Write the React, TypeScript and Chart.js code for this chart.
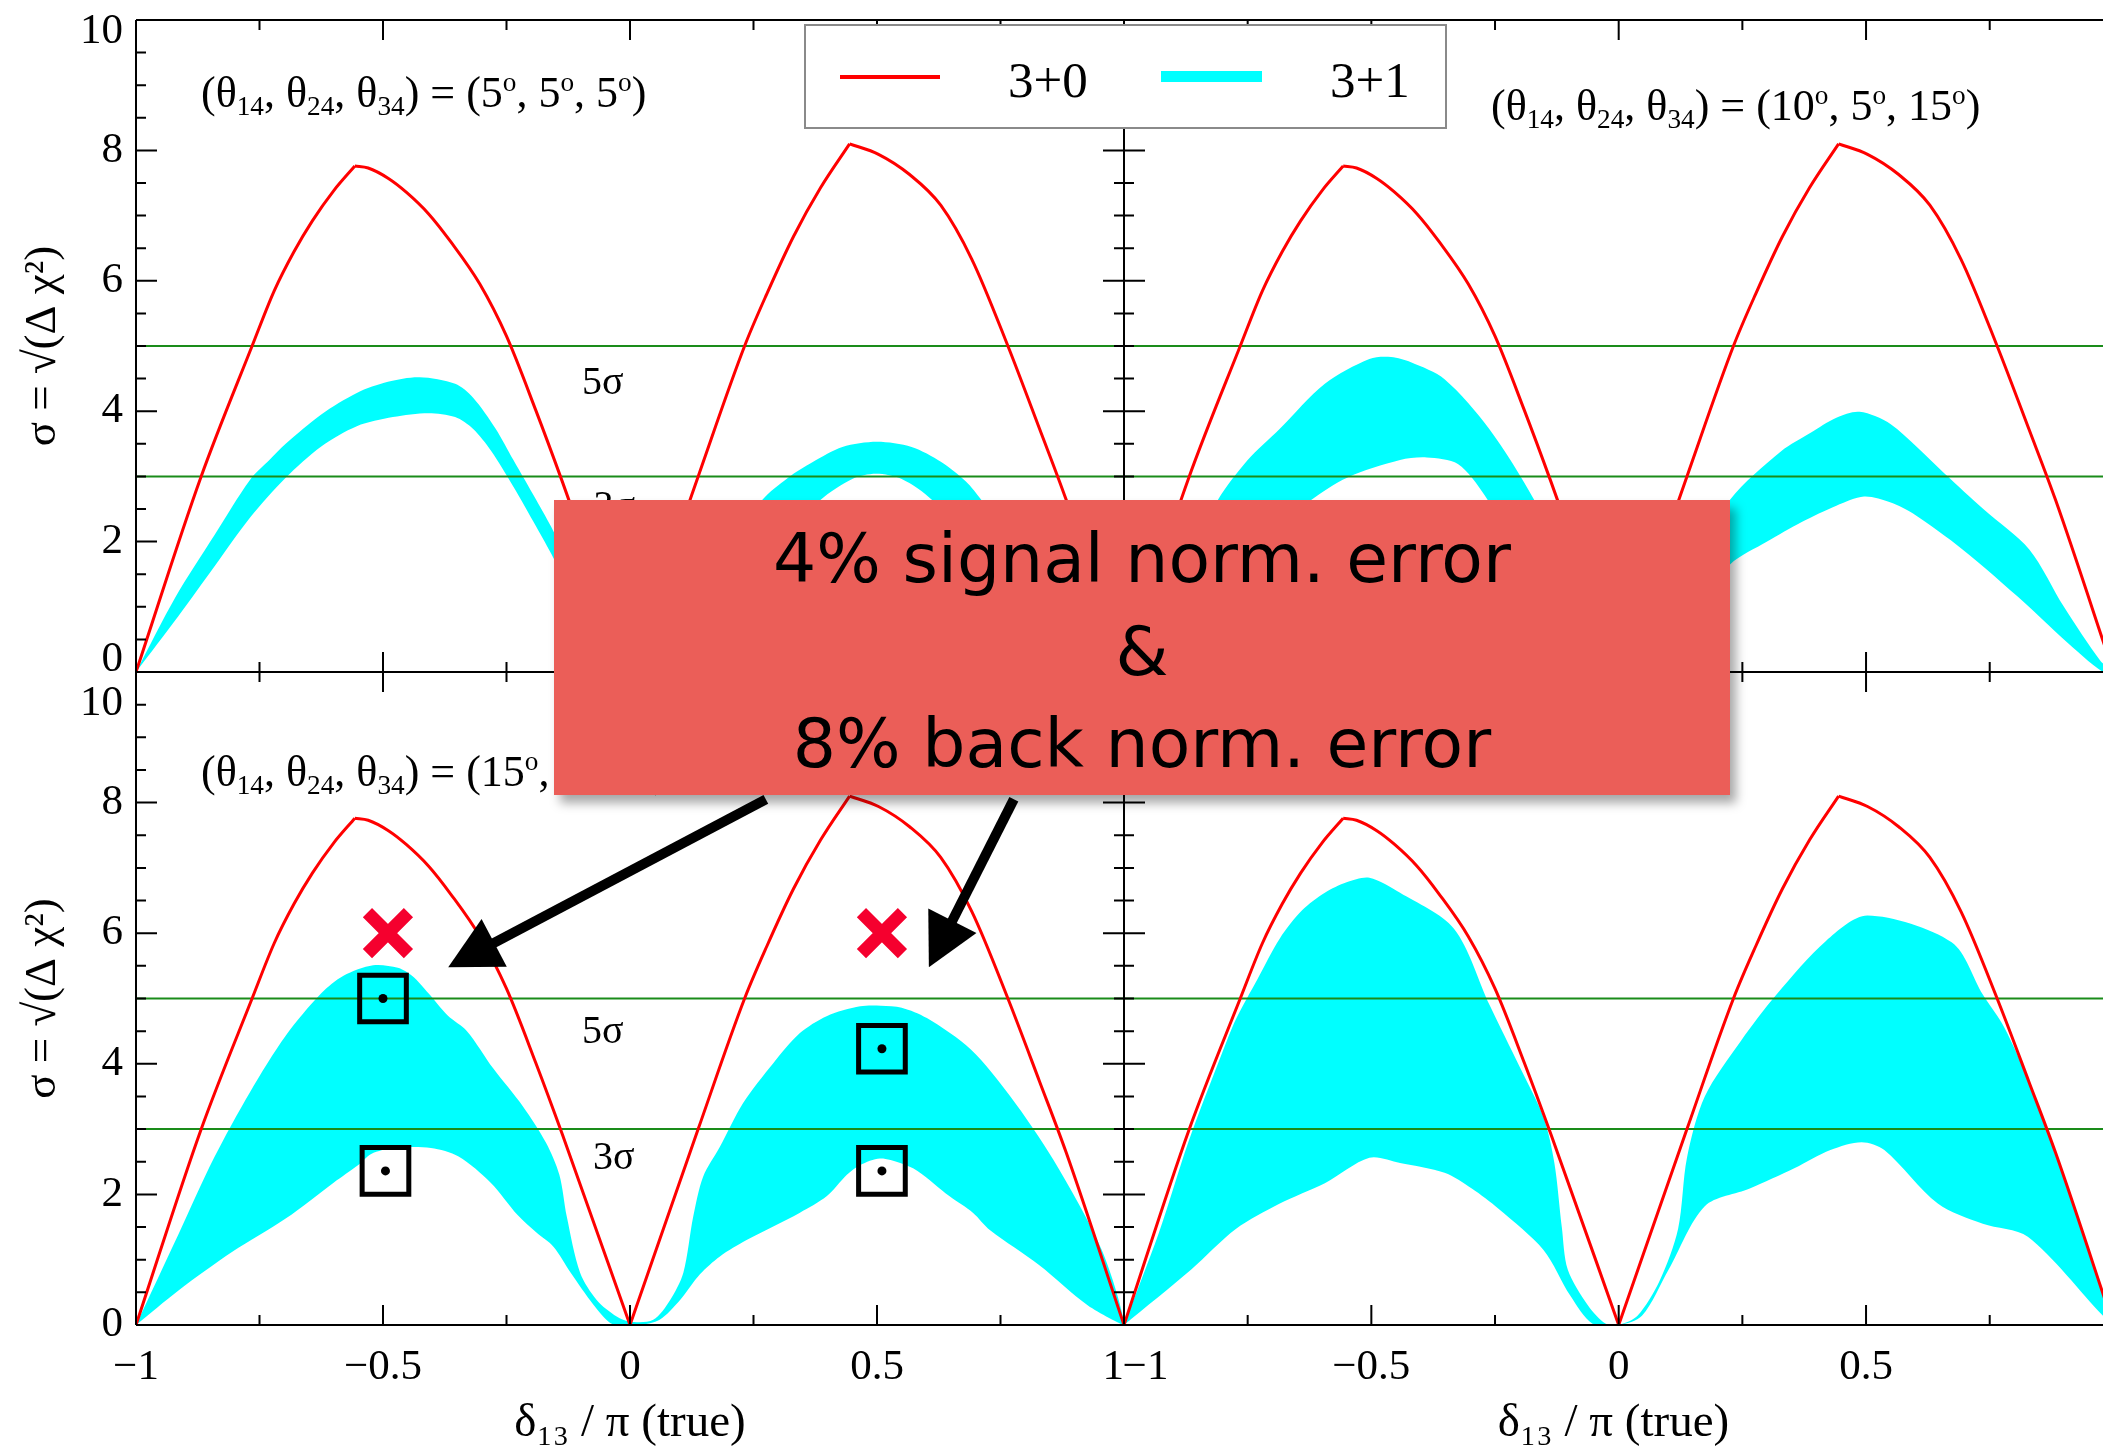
import React, { useEffect, useRef } from 'react';
import { Chart, registerables } from 'chart.js';

Chart.register(...registerables);

const SERIF = '"Liberation Serif", "DejaVu Serif", "Times New Roman", serif';

// ---------------- axes / ticks ----------------
const xTickLabels = [-1, -0.5, 0, 0.5, 1];
const xMajorTicks = [-1, -0.5, 0, 0.5, 1];
const xMinorTicks = [-0.75, -0.25, 0.25, 0.75];
const yTickLabels = [0, 2, 4, 6, 8, 10];
const yMajorTicks = [0, 2, 4, 6, 8, 10];
const yMinorTicks = [0.5, 1, 1.5, 2.5, 3, 3.5, 4.5, 5, 5.5, 6.5, 7, 7.5, 8.5, 9, 9.5];
const sigmaLevels = [5, 3];

// ---------------- 3+0 curve (same in every panel) ----------------
const curve30 = [
  [-1, 0], [-0.869, 2.98], [-0.765, 5.0], [-0.72, 5.85], [-0.68, 6.45], [-0.643, 6.92], [-0.6, 7.38],
  [-0.557, 7.76], [-0.53, 7.73], [-0.489, 7.57], [-0.453, 7.36], [-0.408, 7.03], [-0.363, 6.6],
  [-0.304, 5.95], [-0.25, 5.15], [-0.191, 4.02], [-0.137, 2.92], [0, 0],
  [0.138, 3.0], [0.232, 5.0], [0.277, 5.8], [0.331, 6.68], [0.386, 7.43], [0.4445, 8.1],
  [0.503, 7.94], [0.566, 7.63], [0.629, 7.16], [0.692, 6.33], [0.765, 5.0], [0.829, 3.73],
  [0.883, 2.64], [1, 0],
];

// ---------------- 3+1 bands ----------------
const tlUpper = [
  [-1, 0], [-0.92, 1.15], [-0.842, 2.09], [-0.769, 2.95], [-0.73, 3.25], [-0.697, 3.5], [-0.625, 3.95],
  [-0.553, 4.28], [-0.49, 4.45], [-0.426, 4.52], [-0.354, 4.42], [-0.318, 4.21], [-0.272, 3.73],
  [-0.236, 3.25], [-0.19, 2.64], [-0.155, 2.16], [-0.1, 1.3], [-0.05, 0.45], [0, 0.03],
  [0.08, 0.6], [0.17, 1.6], [0.268, 2.64], [0.32, 2.98], [0.37, 3.22], [0.43, 3.45], [0.5, 3.53],
  [0.57, 3.45], [0.63, 3.22], [0.68, 2.92], [0.711, 2.64], [0.8, 1.75], [0.9, 0.85], [1, 0],
];
const tlLower = [
  [-1, 0], [-0.914, 0.86], [-0.842, 1.61], [-0.769, 2.37], [-0.697, 2.98], [-0.625, 3.46],
  [-0.553, 3.77], [-0.48, 3.91], [-0.408, 3.97], [-0.354, 3.91], [-0.318, 3.73], [-0.281, 3.39],
  [-0.236, 2.84], [-0.19, 2.23], [-0.155, 1.75], [-0.1, 0.95], [-0.05, 0.25], [-0.02, 0],
  [0.02, 0], [0.1, 0.35], [0.2, 1.1], [0.3, 1.95], [0.386, 2.64], [0.45, 2.96], [0.498, 3.04],
  [0.55, 2.96], [0.611, 2.64], [0.7, 1.85], [0.85, 0.8], [1, 0],
];
const trUpper = [
  [-1, 0], [-0.9, 1.35], [-0.81, 2.64], [-0.75, 3.25], [-0.685, 3.73], [-0.594, 4.42], [-0.504, 4.8],
  [-0.46, 4.83], [-0.42, 4.75], [-0.352, 4.49], [-0.262, 3.73], [-0.171, 2.64], [-0.1, 1.5],
  [-0.04, 0.45], [0, 0.03], [0.06, 0.5], [0.12, 1.3], [0.225, 2.64], [0.329, 3.39], [0.388, 3.67],
  [0.44, 3.9], [0.487, 3.99], [0.55, 3.8], [0.658, 3.05], [0.74, 2.48], [0.83, 1.88], [0.9, 1.0],
  [0.974, 0.17], [1, 0],
];
const trLower = [
  [-1, 0], [-0.85, 1.0], [-0.72, 2.0], [-0.621, 2.64], [-0.549, 2.98], [-0.442, 3.25], [-0.388, 3.29],
  [-0.325, 3.19], [-0.271, 2.71], [-0.2, 1.8], [-0.1, 0.6], [-0.03, 0], [0.02, 0], [0.1, 0.6],
  [0.225, 1.65], [0.3, 2.0], [0.37, 2.3], [0.44, 2.55], [0.496, 2.69], [0.55, 2.6], [0.595, 2.43],
  [0.695, 1.88], [0.821, 1.06], [0.9, 0.5], [0.979, 0], [1, 0],
];
const blUpper = [
  [-1, 0], [-0.914, 1.39], [-0.842, 2.56], [-0.769, 3.57], [-0.697, 4.43], [-0.625, 5.08], [-0.58, 5.35],
  [-0.52, 5.51], [-0.47, 5.47], [-0.44, 5.34], [-0.408, 5.08], [-0.369, 4.74], [-0.33, 4.5],
  [-0.277, 3.93], [-0.217, 3.35], [-0.17, 2.79], [-0.143, 2.3], [-0.128, 1.66], [-0.101, 0.8],
  [-0.067, 0.38], [-0.027, 0.13], [0, 0.05], [0.047, 0.08], [0.081, 0.38], [0.108, 0.8],
  [0.128, 1.66], [0.148, 2.27], [0.182, 2.73], [0.229, 3.4], [0.29, 4.01], [0.344, 4.47],
  [0.398, 4.73], [0.466, 4.88], [0.508, 4.89], [0.55, 4.86], [0.601, 4.7], [0.69, 4.22],
  [0.77, 3.5], [0.857, 2.53], [0.955, 1.15], [1, 0],
];
const blLower = [
  [-1, 0], [-0.914, 0.53], [-0.805, 1.12], [-0.697, 1.63], [-0.6, 2.18], [-0.55, 2.45], [-0.524, 2.62],
  [-0.478, 2.71], [-0.403, 2.71], [-0.347, 2.58], [-0.282, 2.18], [-0.227, 1.68], [-0.19, 1.42],
  [-0.155, 1.2], [-0.12, 0.8], [-0.074, 0.31], [-0.04, 0.03], [-0.02, 0], [0.02, 0], [0.06, 0.08],
  [0.101, 0.38], [0.142, 0.78], [0.182, 1.05], [0.236, 1.3], [0.29, 1.51], [0.344, 1.72],
  [0.398, 1.97], [0.439, 2.3], [0.466, 2.45], [0.506, 2.55], [0.547, 2.48], [0.582, 2.36],
  [0.647, 1.97], [0.694, 1.72], [0.729, 1.45], [0.828, 0.92], [0.927, 0.3], [1, 0],
];
const brUpper = [
  [-1, 0], [-0.93, 1.4], [-0.87, 2.8], [-0.8, 4.2], [-0.774, 4.68], [-0.73, 5.3], [-0.685, 5.92],
  [-0.64, 6.35], [-0.594, 6.62], [-0.55, 6.78], [-0.504, 6.85], [-0.442, 6.62], [-0.333, 6.07],
  [-0.261, 4.9], [-0.2, 3.95], [-0.152, 3.18], [-0.13, 2.48], [-0.115, 1.5], [-0.103, 0.85],
  [-0.062, 0.3], [-0.026, 0.02], [0, 0], [0.038, 0.14], [0.083, 0.68], [0.12, 1.47], [0.138, 2.56],
  [0.174, 3.5], [0.247, 4.35], [0.319, 5.06], [0.419, 5.88], [0.503, 6.27], [0.673, 5.86],
  [0.736, 5.06], [0.78, 4.55], [0.829, 3.73], [0.883, 2.64], [1, 0],
];
const brLower = [
  [-1, 0], [-0.864, 0.85], [-0.774, 1.47], [-0.685, 1.86], [-0.594, 2.17], [-0.504, 2.56],
  [-0.442, 2.48], [-0.352, 2.33], [-0.297, 2.09], [-0.243, 1.78], [-0.152, 1.15], [-0.098, 0.45],
  [-0.053, 0.02], [0, 0], [0.047, 0.14], [0.101, 0.85], [0.174, 1.82], [0.265, 2.09], [0.355, 2.4],
  [0.428, 2.68], [0.491, 2.8], [0.537, 2.68], [0.645, 1.86], [0.736, 1.55], [0.827, 1.35],
  [0.979, 0.14], [1, 0],
];

// ---------------- markers / annotations (bottom-left panel) ----------------
const crossPoints = [[-0.49, 6.0], [0.51, 6.0]];
const boxPoints = [[-0.5, 5.0], [-0.495, 2.36], [0.51, 4.23], [0.51, 2.36]];
const arrowLines = [
  [0.275, 8.05, -0.368, 5.48],
  [0.777, 8.05, 0.605, 5.48],
];
const tlAngles = ['5', '5', '5'];
const trAngles = ['10', '5', '15'];
const blAngles = ['15', '5', '5'];

const fmt = (v: number) => (v < 0 ? '\u2212' + Math.abs(v) : String(v));

// split a curve into monotonic pieces (peaks/valleys keep their corners)
function monotonePieces(arr: number[][]): number[][][] {
  const pieces: number[][][] = [];
  let cur: number[][] = [arr[0]];
  let dir = 0;
  for (let i = 1; i < arr.length; i++) {
    const d = Math.sign(arr[i][1] - arr[i - 1][1]);
    if (dir !== 0 && d !== 0 && d !== dir) {
      pieces.push(cur);
      cur = [arr[i - 1]];
    }
    if (d !== 0) dir = d;
    cur.push(arr[i]);
  }
  pieces.push(cur);
  return pieces;
}

interface PanelCfg {
  key: string;
  left: number; top: number; width: number; height: number;
  padding: { left: number; right: number; top: number; bottom: number };
  xMax: number;
  showY: boolean; showX: boolean; frameRight: boolean;
  upper: number[][]; lower: number[][];
  yLine: number;
  yLabel: (v: number) => any;
  xLabel: (v: number) => string;
  sigmaTexts: { text: string; x: number; y: number }[];
  markers: boolean;
  arrows: number[][];
}

const panels: PanelCfg[] = [
  {
    key: 'tl', left: 0, top: 0, width: 1150, height: 700,
    padding: { left: 0, right: 26, top: 20, bottom: 28 }, xMax: 1,
    showY: true, showX: false, frameRight: true, upper: tlUpper, lower: tlLower, yLine: 24,
    yLabel: (v) => (v === 0 ? ['0', ''] : v === 10 ? ['', '10'] : String(v)),
    xLabel: fmt,
    sigmaTexts: [{ text: '5σ', x: -0.055, y: 4.43 }, { text: '3σ', x: -0.032, y: 2.52 }],
    markers: false, arrows: [],
  },
  {
    key: 'tr', left: 1100, top: 0, width: 1003, height: 700,
    padding: { left: 24, right: 0, top: 20, bottom: 28 }, xMax: 0.979,
    showY: false, showX: false, frameRight: false, upper: trUpper, lower: trLower, yLine: 24,
    yLabel: (v) => String(v), xLabel: fmt, sigmaTexts: [], markers: false, arrows: [],
  },
  {
    key: 'bl', left: 0, top: 650, width: 1150, height: 797,
    padding: { left: 0, right: 26, top: 22, bottom: 0 }, xMax: 1,
    showY: true, showX: true, frameRight: true, upper: blUpper, lower: blLower, yLine: 32,
    yLabel: (v) => (v === 10 ? ['', '', '10'] : String(v)),
    xLabel: (v) => (v === 1 ? '1  ' : fmt(v)),
    sigmaTexts: [{ text: '5σ', x: -0.055, y: 4.48 }, { text: '3σ', x: -0.033, y: 2.55 }],
    markers: true, arrows: arrowLines,
  },
  {
    key: 'br', left: 1100, top: 650, width: 1003, height: 797,
    padding: { left: 24, right: 0, top: 22, bottom: 0 }, xMax: 0.979,
    showY: false, showX: true, frameRight: false, upper: brUpper, lower: brLower, yLine: 32,
    yLabel: (v) => String(v),
    xLabel: (v) => (v === -1 ? '    \u22121' : fmt(v)),
    sigmaTexts: [], markers: false, arrows: [],
  },
];

function makeDecor(cfg: PanelCfg) {
  return {
    id: 'decor_' + cfg.key,
    afterDatasetsDraw(chart: any) {
      const { ctx, chartArea: a } = chart;
      const xs = chart.scales.x;
      const ys = chart.scales.y;
      ctx.save();
      ctx.strokeStyle = '#000';
      ctx.lineWidth = 2;
      ctx.lineCap = 'butt';
      ctx.beginPath();
      ctx.moveTo(a.left, a.top); ctx.lineTo(a.right, a.top);
      ctx.moveTo(a.left, a.bottom); ctx.lineTo(a.right, a.bottom);
      ctx.moveTo(a.left, a.top); ctx.lineTo(a.left, a.bottom);
      if (cfg.frameRight) { ctx.moveTo(a.right, a.top); ctx.lineTo(a.right, a.bottom); }
      const xt = (vals: number[], len: number) => vals.forEach((v) => {
        const p = xs.getPixelForValue(v);
        if (p < a.left - 0.5 || p > a.right + 0.5) return;
        ctx.moveTo(p, a.bottom); ctx.lineTo(p, a.bottom - len);
        ctx.moveTo(p, a.top); ctx.lineTo(p, a.top + len);
      });
      const yt = (vals: number[], len: number) => vals.forEach((v) => {
        const p = ys.getPixelForValue(v);
        ctx.moveTo(a.left, p); ctx.lineTo(a.left + len, p);
        if (cfg.frameRight) { ctx.moveTo(a.right, p); ctx.lineTo(a.right - len, p); }
      });
      xt(xMajorTicks, 20); xt(xMinorTicks, 10);
      yt(yMajorTicks, 21); yt(yMinorTicks, 10);
      ctx.stroke();

      ctx.fillStyle = '#000';
      ctx.font = '40px ' + SERIF;
      ctx.textAlign = 'center';
      ctx.textBaseline = 'middle';
      cfg.sigmaTexts.forEach((t) => ctx.fillText(t.text, xs.getPixelForValue(t.x), ys.getPixelForValue(t.y)));

      cfg.arrows.forEach(([x1, y1, x2, y2]) => {
        const px1 = xs.getPixelForValue(x1), py1 = ys.getPixelForValue(y1);
        const px2 = xs.getPixelForValue(x2), py2 = ys.getPixelForValue(y2);
        const dx = px2 - px1, dy = py2 - py1, L = Math.hypot(dx, dy);
        const ux = dx / L, uy = dy / L, nx = -uy, ny = ux;
        const head = 52, hw = 27;
        const bx = px2 - ux * head, by = py2 - uy * head;
        ctx.lineWidth = 10;
        ctx.beginPath(); ctx.moveTo(px1, py1); ctx.lineTo(bx + ux * 6, by + uy * 6); ctx.stroke();
        ctx.beginPath();
        ctx.moveTo(px2, py2);
        ctx.lineTo(bx + nx * hw, by + ny * hw);
        ctx.lineTo(bx - nx * hw, by - ny * hw);
        ctx.closePath();
        ctx.fill();
      });
      ctx.restore();
    },
  };
}

function Panel({ cfg }: { cfg: PanelCfg }) {
  const ref = useRef<HTMLCanvasElement>(null);
  useEffect(() => {
    const canvas = ref.current;
    if (!canvas) return;
    const toPts = (arr: number[][]) => arr.map(([x, y]) => ({ x, y }));
    const datasets: any[] = [];
    if (cfg.markers) {
      datasets.push(
        { label: 'dots', data: toPts(boxPoints), showLine: false, pointStyle: 'circle', pointRadius: 4.5,
          pointBackgroundColor: '#000', pointBorderColor: '#000', pointBorderWidth: 0 },
        { label: 'boxes', data: toPts(boxPoints), showLine: false, pointStyle: 'rect', pointRadius: 33,
          pointBackgroundColor: 'rgba(0,0,0,0)', pointBorderColor: '#000', pointBorderWidth: 5 },
        { label: 'crosses', data: toPts(crossPoints), showLine: false, pointStyle: 'crossRot', pointRadius: 29,
          pointBackgroundColor: '#f5002e', pointBorderColor: '#f5002e', pointBorderWidth: 13 },
      );
    }
    monotonePieces(curve30).forEach((piece, i) => datasets.push({
      label: i === 0 ? '3+0' : '3+0 (' + i + ')', data: toPts(piece), showLine: true,
      borderColor: '#ff0000', borderWidth: 3, pointRadius: 0, fill: false, clip: 0,
      cubicInterpolationMode: 'monotone',
    }));
    sigmaLevels.forEach((s) => datasets.push({ label: s + 'σ', data: [{ x: -1, y: s }, { x: 1, y: s }], showLine: true,
      borderColor: '#1a8c1a', borderWidth: 2, pointRadius: 0, fill: false, clip: 0 }));
    const lowerRev = cfg.lower.slice().reverse().slice(1);
    datasets.push({ label: '3+1', data: toPts([...cfg.upper, ...lowerRev]), showLine: true,
      borderWidth: 0, borderColor: 'rgba(0,0,0,0)', backgroundColor: '#00ffff', fill: 'shape',
      pointRadius: 0, clip: 0, tension: 0.3 });

    const chart = new Chart(canvas, {
      type: 'scatter',
      data: { datasets },
      options: {
        animation: false,
        responsive: false,
        events: [],
        layout: { padding: cfg.padding, autoPadding: false },
        plugins: { legend: { display: false }, tooltip: { enabled: false } },
        scales: {
          x: {
            type: 'linear', min: -1, max: cfg.xMax, display: cfg.showX, position: 'bottom',
            grid: { display: false, drawTicks: false }, border: { display: false },
            afterBuildTicks: (s: any) => { s.ticks = xTickLabels.filter((v) => v <= cfg.xMax + 1e-9).map((v) => ({ value: v })); },
            afterFit: (s: any) => { if (cfg.showX) s.height = 122; s.paddingLeft = 0; s.paddingRight = 0; },
            ticks: { autoSkip: false, maxRotation: 0, minRotation: 0, padding: 21, color: '#000',
              font: { family: SERIF, size: 43, lineHeight: 1 }, callback: (v: any) => cfg.xLabel(Number(v)) },
            title: { display: cfg.showX, text: 'δ₁₃ / π (true)', color: '#000',
              font: { family: SERIF, size: 47, lineHeight: 1 }, padding: { top: 0, bottom: 0 } },
          },
          y: {
            type: 'linear', min: 0, max: 10, display: cfg.showY, position: 'left',
            grid: { display: false, drawTicks: false }, border: { display: false },
            afterBuildTicks: (s: any) => { s.ticks = yTickLabels.map((v) => ({ value: v })); },
            afterFit: (s: any) => { if (cfg.showY) s.width = 136; s.paddingTop = 0; s.paddingBottom = 0; },
            ticks: { autoSkip: false, padding: 13, color: '#000',
              font: { family: SERIF, size: 43, lineHeight: cfg.yLine / 43 }, callback: (v: any) => cfg.yLabel(Number(v)) },
            title: { display: cfg.showY, text: 'σ = √(Δ χ²)', color: '#000',
              font: { family: SERIF, size: 45, lineHeight: 1 }, padding: { top: 21, bottom: 0 } },
          },
        },
      } as any,
      plugins: [makeDecor(cfg)],
    });
    return () => chart.destroy();
  }, [cfg]);
  return (
    <canvas ref={ref} width={cfg.width} height={cfg.height}
      style={{ position: 'absolute', left: cfg.left, top: cfg.top, width: cfg.width, height: cfg.height }} />
  );
}

const Sub = ({ children }: any) => (
  <span style={{ fontSize: '0.62em', position: 'relative', top: '0.3em' }}>{children}</span>
);
const Sup = ({ children }: any) => (
  <span style={{ fontSize: '0.62em', position: 'relative', top: '-0.6em' }}>{children}</span>
);

function AngleLabel({ a, left, top }: { a: string[]; left: number; top: number }) {
  return (
    <div style={{ position: 'absolute', left, top, fontFamily: SERIF, fontSize: 44, lineHeight: '44px',
      whiteSpace: 'nowrap', color: '#000' }}>
      (θ<Sub>14</Sub>, θ<Sub>24</Sub>, θ<Sub>34</Sub>) = ({a[0]}<Sup>o</Sup>, {a[1]}<Sup>o</Sup>, {a[2]}<Sup>o</Sup>)
    </div>
  );
}

export default function App() {
  return (
    <div style={{ position: 'fixed', left: 0, top: 0, width: 2103, height: 1447, background: '#fff', overflow: 'hidden' }}>
      {panels.map((p) => <Panel key={p.key} cfg={p} />)}
      <AngleLabel a={tlAngles} left={201} top={71} />
      <AngleLabel a={trAngles} left={1491} top={84} />
      <AngleLabel a={blAngles} left={201} top={750} />
      {/* legend */}
      <div style={{ position: 'absolute', left: 804, top: 24, width: 643, height: 105, boxSizing: 'border-box',
        border: '2px solid #8a8a8a', background: '#fff' }} />
      <div style={{ position: 'absolute', left: 840, top: 75, width: 100, height: 4, background: '#ff0000' }} />
      <div style={{ position: 'absolute', left: 1008, top: 55, fontFamily: SERIF, fontSize: 51, lineHeight: '51px', color: '#000' }}>3+0</div>
      <div style={{ position: 'absolute', left: 1161, top: 71, width: 101, height: 11, background: '#00ffff' }} />
      <div style={{ position: 'absolute', left: 1330, top: 55, fontFamily: SERIF, fontSize: 51, lineHeight: '51px', color: '#000' }}>3+1</div>
      {/* annotation box */}
      <div style={{ position: 'absolute', left: 554, top: 500, width: 1176, height: 295, background: '#eb5e58',
        boxShadow: '6px 8px 10px rgba(0,0,0,0.35)' }}>
        <div style={{ position: 'absolute', left: 0, right: 0, top: 13, textAlign: 'center',
          fontFamily: '"Comic Sans MS", "DejaVu Sans", sans-serif', fontSize: 68, lineHeight: '92.5px', color: '#000' }}>
          <div>4% signal norm. error</div>
          <div>&amp;</div>
          <div>8% back norm. error</div>
        </div>
      </div>
    </div>
  );
}
